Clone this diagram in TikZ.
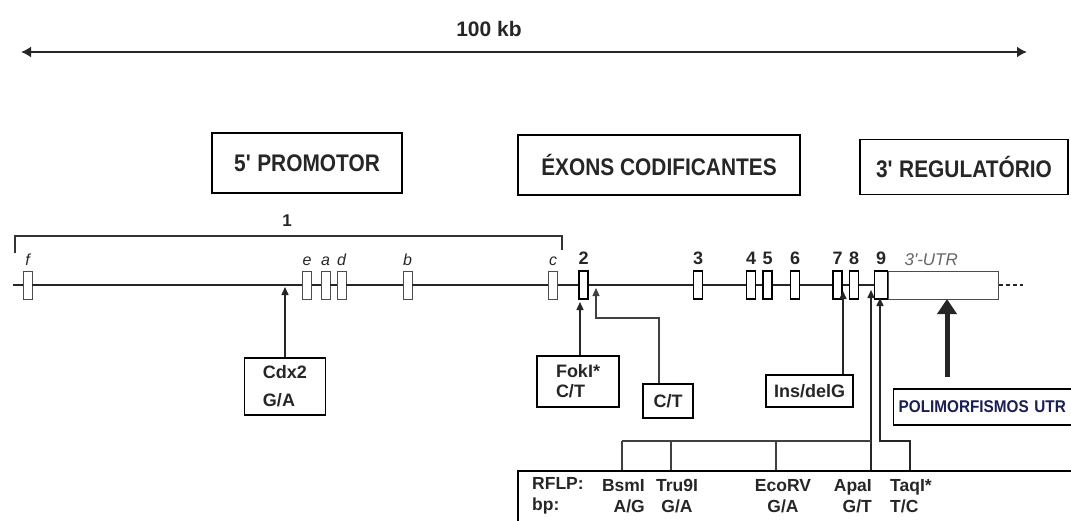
\documentclass[tikz,border=0pt]{standalone}
\usepackage{fontspec}
\setmainfont{Liberation Sans}
\newfontfamily\condfont[FakeStretch=0.9]{Liberation Sans}
\newfontfamily\titlefont[FakeStretch=0.87]{Liberation Sans}
\usetikzlibrary{positioning,arrows.meta}
\definecolor{utrblue}{RGB}{25,30,85}

\begin{document}
\begin{tikzpicture}[x=1pt, y=-1pt,
    exon/.style={draw, fill=white, inner sep=0pt, minimum width=9pt, minimum height=28pt},
    pexon/.style={exon, draw=black!70, line width=0.9pt},
    cexon/.style={exon, line width=1.8pt},
    gene/.style={line width=2pt, black!85},
    lbl/.style={font=\fontsize{16}{16}\selectfont\itshape, inner sep=0pt, text=black!85},
    num/.style={font=\fontsize{18}{18}\selectfont\bfseries, inner sep=0pt, text=black!85},
    title/.style={draw, line width=1.7pt, font=\titlefont\fontsize{24}{24}\selectfont\bfseries, minimum height=60pt, text=black!85},
    snp/.style={draw, line width=1.2pt, font=\fontsize{18}{21}\selectfont\bfseries, align=left, text=black!85},
    rtxt/.style={font=\fontsize{17.5}{21}\selectfont\bfseries, inner sep=0pt, text=black!85},
    arrow/.style={-{Triangle[length=8pt,width=7pt]}, line width=1.5pt, black!85},
    thinarrow/.style={arrow, line width=1.1pt, black!75},
    comb/.style={line width=1.2pt, black!75},
    bigarrow/.style={-{Triangle[length=15pt,width=19pt]}, line width=5pt, black!85}]

\useasboundingbox (0,0) rectangle (1071,520);

% scale bar
\coordinate (sl) at (21,52);
\coordinate (sr) at (1027,52);
\draw[{Latex[length=10pt,width=11pt]}-{Latex[length=10pt,width=11pt]}, line width=2.2pt, black!85] (sl) -- (sr);
\node[font=\fontsize{21}{21}\selectfont\bfseries, text=black!85] (kb) at (489,29) {100 kb};

% regions
\node[title, minimum width=190pt] (prom) at (307,163) {5\textquotesingle{} PROMOTOR};
\node[title, minimum width=282pt] (cod) at (659,165) {ÉXONS CODIFICANTES};
\node[title, minimum width=208pt, minimum height=55pt] (reg) at (964,167) {3\textquotesingle{} REGULATÓRIO};

% exon 1 bracket
\coordinate (brl) at (15,253);
\coordinate (brr) at (562,236);
\draw[line width=1.1pt, black!80] (brl) |- (brr) -- ++(0,14);
\node[num, font=\fontsize{17}{17}\selectfont\bfseries] (one) at (287,221) {1};

% exons
\foreach \n/\x in {f/27.5, e/307, a/325.5, d/341.5, b/407.5, c/553}
    \node[pexon] (\n) at (\x,285) {};
\foreach \n/\x in {2/583.5, 3/698, 4/751, 5/767.5, 6/795, 7/837.5, 8/854}
    \node[cexon] (ex\n) at (\x,285) {};
\node[cexon, minimum width=13pt] (ex9) at (881,285) {};
\node[pexon, minimum width=110pt, right=0pt of ex9] (utr) {};

\foreach \n in {f,e,a,d,b,c}
    \node[lbl, above=5pt of \n] (\n-lbl) {\n};
\foreach \n in {2,...,9}
    \node[num, above=5pt of ex\n] (ex\n-lbl) {\n};
\node[lbl, text=black!60, font=\fontsize{17}{17}\selectfont\itshape, anchor=south west] (utr-lbl) at ([xshift=16pt,yshift=5pt]utr.north west) {3\textquotesingle-UTR};

% backbone
\coordinate (gstart) at (13,285);
\coordinate (gend) at (1023,285);
\draw[gene, line width=2.6pt] (gstart) -- (f.west);
\draw[gene, line width=2.6pt] (f.east) -- (e.west);
\foreach \a/\b in {e/a, a/d, d/b, b/c, c/ex2, ex2/ex3, ex3/ex4, ex4/ex5, ex5/ex6, ex6/ex7, ex7/ex8, ex8/ex9}
    \draw[gene] (\a.east) -- (\b.west);
\draw[gene, dash pattern=on 4pt off 3pt] (utr.east) -- (gend);

% polymorphisms
\node[snp, minimum width=81pt, minimum height=57pt] (cdx) at (285,386.5) {Cdx2\\[7pt]G/A};
\coordinate (cdxsite) at (285,287);
\draw[arrow] (cdx) -- (cdxsite);

\node[snp, minimum width=82pt, minimum height=51pt, font=\fontsize{18}{20}\selectfont\bfseries] (fok) at (578,381.5) {FokI*\\C/T};
\coordinate (foksite) at (580,302);
\draw[arrow] (fok.north -| foksite) -- (foksite);

\node[snp, minimum width=50pt, minimum height=34pt] (ct) at (668,401) {C/T};
\coordinate (ctsite) at (596,288);
\coordinate (ctbend) at (596,318);
\draw[thinarrow] ([xshift=-9pt]ct.north) |- (ctbend) -- (ctsite);

\node[snp, minimum width=87pt, minimum height=32pt] (ins) at (809.5,391) {Ins/delG};
\coordinate (inssite) at (843,291);
\draw[arrow] (ins.north -| inssite) -- (inssite);

\node[draw, line width=1.3pt, anchor=west, text width=180pt, minimum height=36pt, inner sep=5pt,
      font=\condfont\fontsize{17}{17}\selectfont\bfseries, text=utrblue] (poly) at (893,407) {POLIMORFISMOS UTR};
\coordinate (utrsite) at (947,299);
\draw[bigarrow] ([yshift=11pt]poly.north -| utrsite) -- (utrsite);

% RFLP table
\node[draw, line width=2pt, minimum width=580pt, minimum height=80pt, anchor=north west] (rflp) at (517,470) {};
\node[rtxt, align=left, anchor=west] (rf-head) at (532,496) {RFLP:\\bp:};
\node[rtxt, align=right, anchor=east] (rf-bsm) at (645,496) {BsmI\\A/G};
\node[rtxt, align=center] (rf-tru) at (677,496) {Tru9I\\G/A};
\node[rtxt, align=center] (rf-eco) at (783,496) {EcoRV\\G/A};
\node[rtxt, align=right, anchor=east] (rf-apa) at (872,496) {ApaI\\G/T};
\node[rtxt, align=left, anchor=west] (rf-taq) at (890,496) {TaqI*\\T/C};

\coordinate (apasite) at (871,290);
\coordinate (taqsite) at (880,298);
\coordinate (taqbend) at (910,441);
\coordinate (tk1) at (622,441);
\coordinate (tk2) at (671,441);
\coordinate (tk3) at (776,441);
\draw[arrow] (rflp.north -| apasite) -- (apasite);
\draw[arrow] (rflp.north -| taqbend) -- (taqbend) -| (taqsite);
\draw[comb] (tk1) -- (tk1 -| apasite);
\foreach \t in {tk1, tk2, tk3}
    \draw[comb] (\t) -- (\t |- rflp.north);
\end{tikzpicture}
\end{document}
